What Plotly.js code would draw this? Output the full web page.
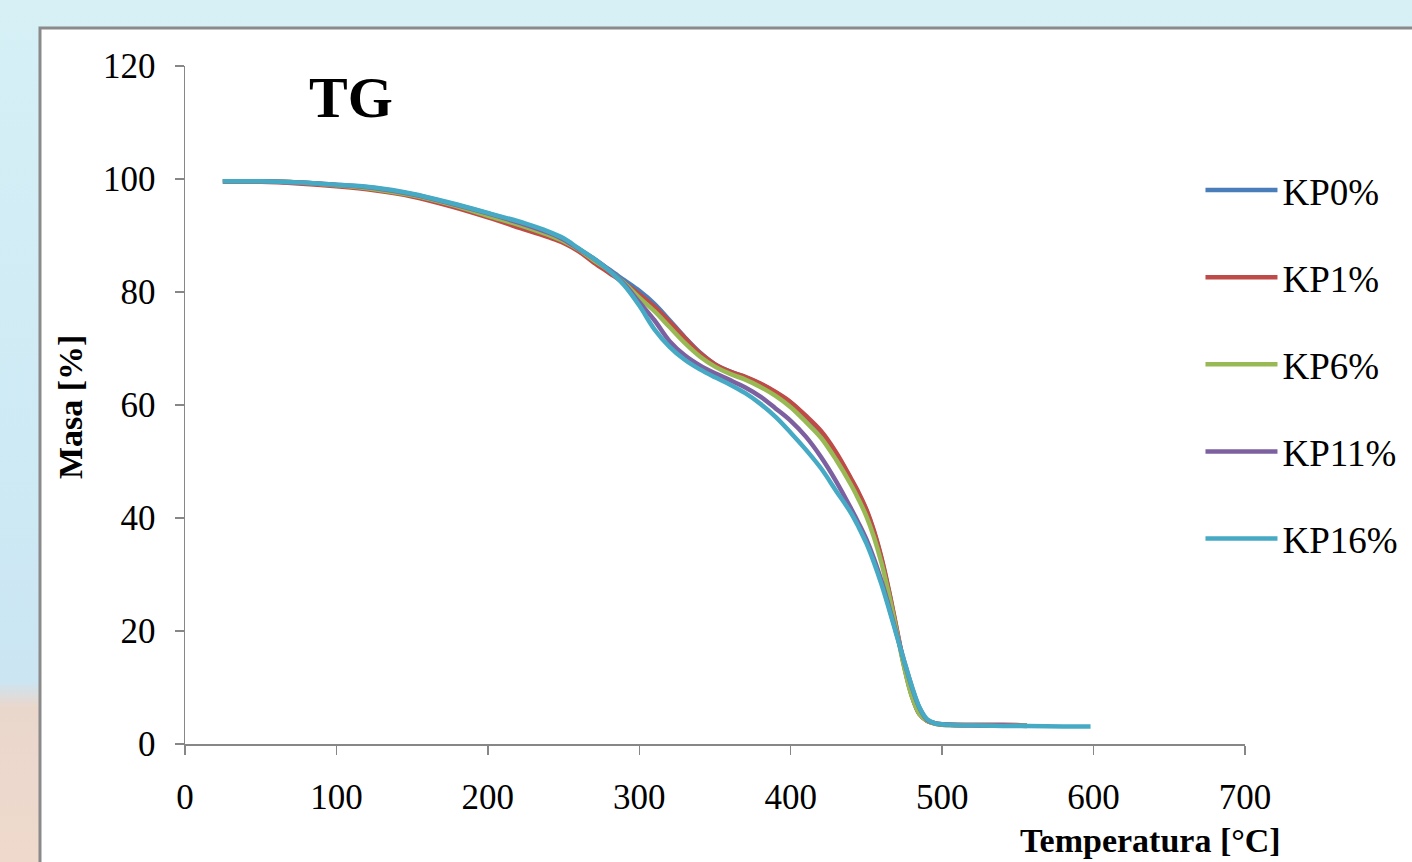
<!DOCTYPE html>
<html>
<head>
<meta charset="utf-8">
<script src="https://cdn.plot.ly/plotly-3.0.1.min.js"></script>
<style>
  html, body { margin: 0; padding: 0; }
  body { width: 1412px; height: 862px; overflow: hidden;
    background: linear-gradient(180deg, #d6f0f6 0%, #cde9f4 60%, #cbe5f3 79%, #ead7cc 82%, #efd9cd 100%); }
  #chart { width: 1412px; height: 862px; }
</style>
</head>
<body>
<div id="chart"></div>
<script>
// Temperature grids [°C]
const tempShort = [25,50,75,100,125,150,175,200,225,240,250,260,270,280,290,300,310,320,330,340,350,360,370,380,390,400,410,420,430,440,445,450,455,460,465,470,475,480,485,490,495,500,520,540,556];
const tempLong  = [25,50,75,100,125,150,175,200,225,240,250,260,270,280,290,300,310,320,330,340,350,360,370,380,390,400,410,420,430,440,445,450,455,460,465,470,475,480,485,490,495,500,520,540,556,580,598];

// Mass [%] per sample
const kp0  = [99.6,99.6,99.4,98.9,98.3,97.2,95.6,93.8,91.7,90.3,89.2,87.6,85.8,84.0,82.1,80.2,77.9,75.0,72.0,69.3,67.2,65.9,64.9,63.7,62.2,60.4,57.9,55.2,51.4,46.7,44.2,41.3,37.5,32.7,26.8,20.2,13.7,8.5,5.3,4.1,3.6,3.4,3.3,3.3,3.3];
const kp1  = [99.5,99.5,99.2,98.7,98.0,96.9,95.2,93.2,91.0,89.7,88.7,87.2,85.2,83.4,81.6,79.6,77.4,74.7,71.9,69.2,67.2,65.9,65.0,63.8,62.3,60.5,58.1,55.4,51.6,46.9,44.4,41.5,37.7,32.9,27.0,20.4,13.8,8.6,5.3,4.1,3.7,3.5,3.4,3.4,3.3];
const kp6  = [99.6,99.6,99.4,98.9,98.2,97.1,95.5,93.5,91.5,90.1,89.0,87.5,85.6,83.8,81.6,79.0,76.6,73.8,71.0,68.6,66.8,65.5,64.5,63.2,61.6,59.6,57.0,54.2,50.3,45.8,43.2,40.3,36.6,32.0,26.3,19.9,13.5,8.4,5.3,4.1,3.6,3.4,3.3,3.3,3.3];
const kp11 = [99.6,99.6,99.4,99.0,98.4,97.3,95.7,93.9,91.9,90.5,89.3,87.6,85.9,83.9,81.4,78.2,75.0,71.3,68.8,67.0,65.6,64.4,63.1,61.5,59.4,57.2,54.4,50.8,46.5,41.6,39.0,36.2,32.8,28.8,24.2,19.4,14.6,10.1,6.4,4.3,3.7,3.5,3.3,3.3,3.2];
const kp16 = [99.6,99.6,99.4,99.0,98.5,97.4,95.8,94.0,92.1,90.7,89.5,87.7,85.9,83.8,81.2,77.6,73.4,70.3,68.0,66.3,64.9,63.6,62.1,60.2,57.9,55.1,52.1,48.8,44.8,40.8,38.3,35.5,32.1,28.2,23.8,19.2,14.6,10.2,6.5,4.4,3.7,3.5,3.3,3.2,3.2,3.1,3.1];

const seriesNames = ["KP0%","KP1%","KP6%","KP11%","KP16%"];
const seriesX = [tempShort, tempShort, tempShort, tempShort, tempLong];
const seriesY = [kp0, kp1, kp6, kp11, kp16];
const seriesColors = ["#4A7EBB","#BE4B48","#98B954","#7D60A0","#46AAC5"];

const xTicks = [0,100,200,300,400,500,600,700];
const yTicks = [0,20,40,60,80,100,120];

const serif = "'Liberation Serif', 'Times New Roman', serif";

const traces = seriesNames.map((n, i) => ({
  type: "scatter", mode: "lines", name: n,
  x: seriesX[i], y: seriesY[i],
  line: { color: seriesColors[i], width: 4.5, shape: "spline", smoothing: 1.0 },
  legendgroup: "g" + i
}));

const axisCol = "#878787";
const layout = {
  width: 1412, height: 862,
  margin: { l: 185, r: 167, t: 66, b: 118, autoexpand: false },
  paper_bgcolor: "rgba(0,0,0,0)",
  plot_bgcolor: "rgba(0,0,0,0)",
  showlegend: true,
  legend: {
    x: 0.958, y: 0.862, xanchor: "left", yanchor: "top",
    bgcolor: "rgba(0,0,0,0)", borderwidth: 0,
    font: { family: serif, size: 37, color: "#000" },
    itemwidth: 72, tracegroupgap: 36, traceorder: "grouped"
  },
  xaxis: {
    range: [0, 700], tickvals: xTicks, ticktext: xTicks.map(String),
    showgrid: false, zeroline: false,
    showline: true, linecolor: axisCol, linewidth: 1.5,
    ticks: "outside", ticklen: 9, tickcolor: axisCol, tickwidth: 1.5,
    ticklabelstandoff: 12,
    tickfont: { family: serif, size: 35, color: "#000" }
  },
  yaxis: {
    range: [0, 120], tickvals: yTicks, ticktext: yTicks.map(String),
    showgrid: false, zeroline: false,
    showline: true, linecolor: axisCol, linewidth: 1.5,
    ticks: "outside", ticklen: 9, tickcolor: axisCol, tickwidth: 1.5,
    ticklabelstandoff: 12,
    tickfont: { family: serif, size: 35, color: "#000" }
  },
  shapes: [{
    type: "rect", xref: "paper", yref: "paper", layer: "below",
    x0: -0.1368, x1: 1.4, y0: -0.4, y1: 1.056,
    fillcolor: "#ffffff", line: { color: "#8a8a8a", width: 3 }
  }],
  annotations: [
    { text: "<b>TG</b>", xref: "paper", yref: "paper", x: 0.1566, y: 0.954,
      xanchor: "center", yanchor: "middle", showarrow: false,
      font: { family: serif, size: 58, color: "#000" } },
    { text: "<b>Masa [%]</b>", xref: "paper", yref: "paper", x: -0.1085, y: 0.497,
      xanchor: "center", yanchor: "middle", textangle: -90, showarrow: false,
      font: { family: serif, size: 34, color: "#000" } },
    { text: "<b>Temperatura [°C]</b>", xref: "paper", yref: "paper", x: 1.0358, y: -0.172,
      xanchor: "right", yanchor: "bottom", showarrow: false,
      font: { family: serif, size: 34, color: "#000" } }
  ]
};

Plotly.newPlot("chart", traces, layout, { displayModeBar: false, staticPlot: true });
</script>
</body>
</html>
